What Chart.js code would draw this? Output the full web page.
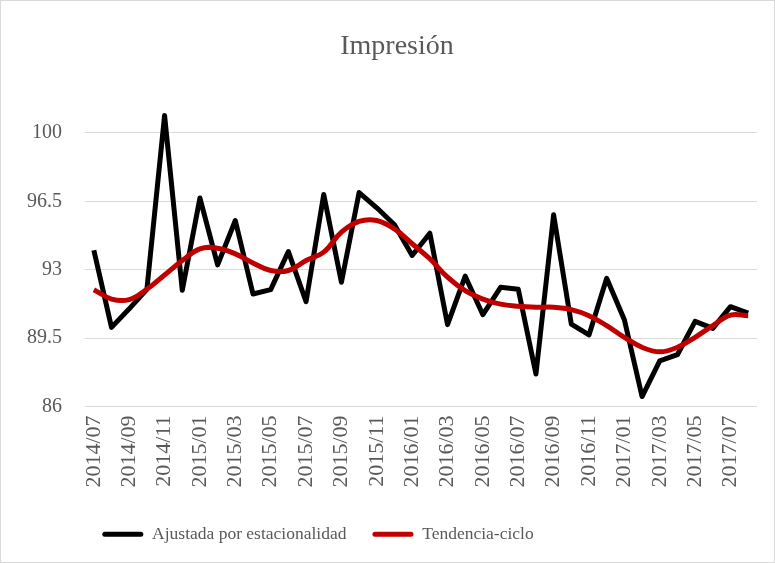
<!DOCTYPE html>
<html>
<head>
<meta charset="utf-8">
<script src="https://cdn.jsdelivr.net/npm/chart.js@4.4.1/dist/chart.umd.min.js"></script>
<style>
   html, body { margin: 0; padding: 0; background: #fff; }
   #wrap { width: 775px; height: 563px; position: relative; }
</style>
</head>
<body>
<div id="wrap"><canvas id="chart"></canvas></div>
<script>
// Meses (eje X)
const months = [
   '2014/07', '2014/08', '2014/09', '2014/10', '2014/11', '2014/12',
   '2015/01', '2015/02', '2015/03', '2015/04', '2015/05', '2015/06',
   '2015/07', '2015/08', '2015/09', '2015/10', '2015/11', '2015/12',
   '2016/01', '2016/02', '2016/03', '2016/04', '2016/05', '2016/06',
   '2016/07', '2016/08', '2016/09', '2016/10', '2016/11', '2016/12',
   '2017/01', '2017/02', '2017/03', '2017/04', '2017/05', '2017/06',
   '2017/07', '2017/08'
]

// Serie ajustada por estacionalidad
const ajustada = [
   94.0, 90.05, 91.0, 92.0, 100.9, 91.95, 96.67, 93.25, 95.52, 91.76,
   91.98, 93.93, 91.37, 96.85, 92.36, 96.95, 96.17, 95.3, 93.73, 94.87,
   90.19, 92.67, 90.7, 92.1, 92.0, 87.66, 95.81, 90.22, 89.66, 92.56,
   90.44, 86.51, 88.34, 88.65, 90.36, 90.0, 91.11, 90.78
]

// Tendencia-ciclo
const tendencia = [
   91.98, 91.5, 91.47, 92.0, 92.73, 93.47, 94.07, 94.1, 93.81, 93.35,
   92.96, 92.96, 93.47, 93.9, 94.92, 95.47, 95.52, 95.09, 94.33, 93.56,
   92.62, 91.93, 91.5, 91.24, 91.13, 91.08, 91.08, 90.96, 90.65, 90.14,
   89.54, 89.03, 88.8, 89.03, 89.54, 90.14, 90.68, 90.65
]

const yTicks = [86, 89.5, 93, 96.5, 100]

const FONT = '"Liberation Serif", "Times New Roman", serif'
const GREY = '#595959'

// Fondo blanco y marco gris
const frame = {
   id: 'frame',
   beforeDraw(chart) {
      const { ctx, width, height } = chart
      ctx.save()
      ctx.fillStyle = '#fff'
      ctx.fillRect(0, 0, width, height)
      ctx.strokeStyle = '#d9d9d9'
      ctx.lineWidth = 1
      ctx.strokeRect(0.5, 0.5, width - 1, height - 1)
      ctx.restore()
   },
   afterLayout(chart) {
      // título y leyenda centrados como en el original
      chart.titleBlock.left = 0
      chart.titleBlock.right = 794
      chart.legend.left = 0
      chart.legend.right = 636
   }
}

new Chart(document.getElementById('chart'), {
   type: 'line',
   data: {
      labels: months,
      datasets: [
         {
            label: 'Ajustada por estacionalidad',
            data: ajustada,
            borderColor: '#000000',
            backgroundColor: '#000000',
            borderWidth: 5,
            borderJoinStyle: 'round',
            tension: 0,
            pointRadius: 0,
            order: 2
         },
         {
            label: 'Tendencia-ciclo',
            data: tendencia,
            borderColor: '#c00000',
            backgroundColor: '#c00000',
            borderWidth: 5,
            tension: 0.4,
            pointRadius: 0,
            order: 1
         }
      ]
   },
   options: {
      responsive: true,
      maintainAspectRatio: false,
      animation: false,
      layout: {
         padding: { left: 0, right: 18, top: 0, bottom: 10 }
      },
      plugins: {
         tooltip: { enabled: false },
         title: {
            display: true,
            text: 'Impresión',
            color: GREY,
            font: { family: FONT, size: 28, weight: 'normal' },
            padding: { top: 30, bottom: 1 }
         },
         legend: {
            position: 'bottom',
            labels: {
               color: GREY,
               font: { family: FONT, size: 17.5 },
               boxWidth: 41,
               boxHeight: 5,
               padding: 26,
               useBorderRadius: true,
               borderRadius: 2.5,
               sort: (a, b) => a.datasetIndex - b.datasetIndex,
               generateLabels: (chart) =>
                  Chart.defaults.plugins.legend.labels.generateLabels(chart).map(l => ({
                     ...l, lineWidth: 0, fillStyle: l.strokeStyle
                  }))
            }
         }
      },
      scales: {
         x: {
            type: 'category',
            offset: true,
            grid: { display: false, drawTicks: false },
            border: { display: false },
            afterFit: (s) => {
               s.height = 93
               s.paddingLeft = 0
               s.paddingRight = 0
            },
            ticks: {
               autoSkip: false,
               maxRotation: 90,
               minRotation: 90,
               padding: 9,
               color: GREY,
               font: { family: FONT, size: 22 },
               callback: (v, i) => (i % 2 === 0 ? months[i] : '')
            }
         },
         y: {
            min: 86,
            max: 103.5,
            afterBuildTicks: (axis) => { axis.ticks = yTicks.map(v => ({ value: v })) },
            afterFit: (s) => { s.width = 85 },
            grid: { color: '#d9d9d9', lineWidth: 1, drawTicks: false },
            border: { display: false },
            ticks: {
               padding: 23,
               color: GREY,
               font: { family: FONT, size: 20 },
               callback: (v) => String(v)
            }
         }
      }
   },
   plugins: [frame]
})
</script>
</body>
</html>
